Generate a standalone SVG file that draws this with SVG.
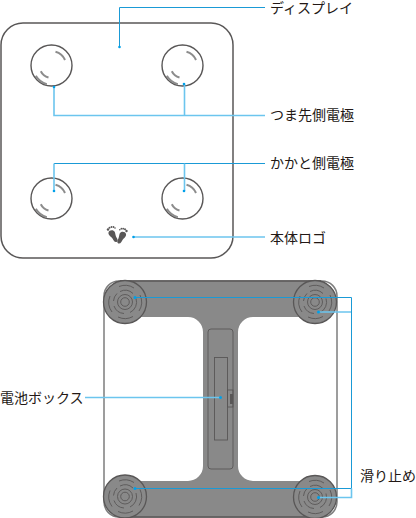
<svg xmlns="http://www.w3.org/2000/svg" width="416" height="518" viewBox="0 0 416 518">
<style>
text{font-family:"Noto Sans CJK JP","Noto Sans",sans-serif;font-size:14px;fill:#231815}
.o{fill:none;stroke:#595757;stroke-width:1.5}
.e{fill:#fff;stroke:#595757;stroke-width:1.4}
.a{fill:none;stroke:#8c8c8c;stroke-width:2}
.f{fill:#898989}
.g{fill:none;stroke:#595757;stroke-width:.9}
.c{fill:none;stroke:#1a9ad6;stroke-width:1}
.l{fill:none;stroke:#6cc5ee;stroke-width:1.6}
.d{fill:#00a0e9}
</style>
<defs>
<g id="elec"><circle class="e" r="20.500"/><path class="a" d="M4 -13.700A14.300 14.300 0 0 1 13.500 -5.500"/><path class="a" d="M-10.700 5.700A12.200 12.200 0 0 0 -3 12"/><path class="a" d="M-15.700 10.300A19 19 0 0 0 -4.700 18.700"/></g>
<g id="foot"><circle r="21.500" fill="#898989" stroke="#595757" stroke-width="1.300"/><circle class="g" r="4.300"/><circle class="g" r="7.500"/>
<path class="g" d="M-5 -10.500A11.500 11.500 0 0 1 8 -8.500M11 -3.500A11.500 11.500 0 0 1 5 10.500M-1 11.500A11.500 11.500 0 0 1 -11 4M-11.500 -1A11.500 11.500 0 0 1 -8 -8.500"/>
<path class="g" d="M-6 -15.500A16.500 16.500 0 0 1 9 -14M15 -7A16.500 16.500 0 0 1 14 9M8 14.500A16.500 16.500 0 0 1 -7 15M-13 10A16.500 16.500 0 0 1 -15 -6"/></g>
</defs>
<g id="top-panel"><rect class="o" x="1" y="23" width="232" height="235" rx="22"/></g>
<g id="electrode-1"><use href="#elec" x="51.500" y="65.500"/></g>
<g id="electrode-2"><use href="#elec" x="182.500" y="65.500"/></g>
<g id="electrode-3"><use href="#elec" x="51.500" y="198.500"/></g>
<g id="electrode-4"><use href="#elec" x="182.500" y="198.500"/></g>
<g id="logo" fill="#595757">
<path d="M108.500 232.500C109 230 113.500 229.500 114.800 232C115.500 234 115.500 236 116.500 237.500C118 239.500 118 242 116 242C114 242 113.500 240 112.500 238.500C111 236.500 108 235 108.500 232.500Z"/>
<circle cx="108" cy="229.500" r="1.200"/><circle cx="109.500" cy="227.700" r="1"/><circle cx="111.500" cy="227" r=".9"/><circle cx="113.500" cy="227" r=".9"/><circle cx="115" cy="228" r=".8"/>
<path d="M126 234C125.500 231.500 121 231 119.700 233.500C119 235.500 119 237.500 118.200 239C116.800 241 117 243.500 119 243.500C121 243.500 121.500 241.500 122.500 240C124 238 126.500 236.500 126 234Z"/>
<circle cx="126.500" cy="231" r="1.200"/><circle cx="125" cy="229.300" r="1"/><circle cx="123.200" cy="228.700" r=".9"/><circle cx="121.400" cy="228.700" r=".9"/><circle cx="119.800" cy="229.700" r=".8"/>
</g>
<g id="bottom-panel">
<rect x="104" y="281" width="233" height="236" rx="15" fill="none" stroke="#7d7d7d" stroke-width="1.500"/>
<path class="f" d="M120 281H321V317H253A15 15 0 0 0 238 332V466A15 15 0 0 0 253 481H321V517H120V481H188A15 15 0 0 0 203 466V332A15 15 0 0 0 188 317H120Z"/>
<path d="M120 281H321M120 517H321" class="o"/>
<rect class="g" x="208" y="329" width="25" height="140" rx="3"/>
<rect class="g" x="214.500" y="357.500" width="13" height="82.500"/>
<rect class="g" x="227.500" y="390" width="5.500" height="17"/>
<rect x="230" y="394" width="3" height="10" fill="#595757"/>
<use href="#foot" x="125" y="302"/><use href="#foot" x="315" y="302"/><use href="#foot" x="125" y="496.500"/><use href="#foot" x="315" y="497"/>
</g>
<g id="connectors">
<path class="c" d="M119.500 47V7.500H265"/>
<path class="l" d="M54 87V115.500H265M184.500 84V115.500"/>
<path class="c" d="M54 163.500H265"/><path class="l" d="M54 163.500V191M184.500 163.500V191"/>
<path class="l" d="M133.500 237H265"/>
<path class="l" d="M85 397.500H220"/>
<path class="c" d="M135 297.500H351.500V488.500H135"/>
<path class="l" d="M318 312H351M318 497.500H351.500V488.500"/>
<g class="d"><circle cx="119.500" cy="47" r="1.300"/><circle cx="54" cy="87" r="1.300"/><circle cx="184" cy="84" r="1.300"/><circle cx="54" cy="191" r="1.300"/><circle cx="184" cy="191" r="1.300"/><circle cx="133.500" cy="237" r="1.300"/><circle cx="220.500" cy="397.500" r="1.500"/><circle cx="135" cy="297.500" r="1.500"/><circle cx="135" cy="488.500" r="1.500"/><circle cx="318.500" cy="312" r="1.500"/><circle cx="318.500" cy="497.500" r="1.500"/></g>
</g>
<g id="labels">
<text x="270" y="13">ディスプレイ</text>
<text x="270" y="120">つま先側電極</text>
<text x="270" y="168">かかと側電極</text>
<text x="270" y="243">本体ロゴ</text>
<text x="0" y="403">電池ボックス</text>
<text x="360" y="481">滑り止め</text>
</g>
</svg>
